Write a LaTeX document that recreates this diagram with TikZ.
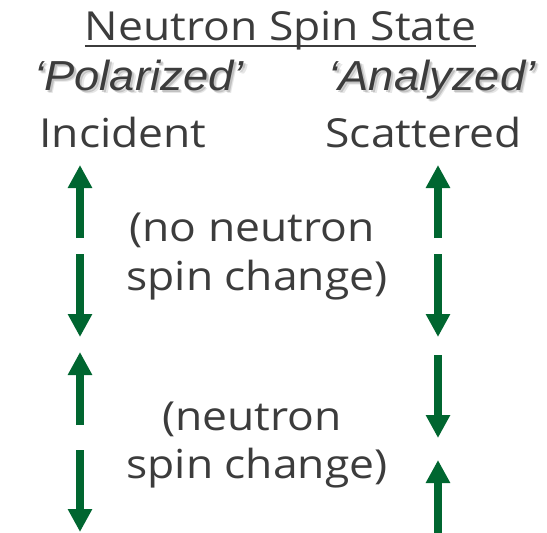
\documentclass[tikz,border=0pt]{standalone}
\usepackage{fontspec}
\setmainfont{Open Sans}[FakeStretch=1.11]
\newfontfamily\obliq{Liberation Sans}[FakeStretch=1.08]
\usetikzlibrary{arrows.meta}
\definecolor{spingreen}{RGB}{0,102,48}
\definecolor{textgray}{RGB}{60,60,60}
\newcommand{\bigtxt}{\fontsize{40}{48}\selectfont}
\newcommand{\obtxt}{\obliq\itshape\fontsize{42}{48}\selectfont}
\newcommand{\spin}[3]{\coordinate (#1a) at (#2);
 	\coordinate (#1b) at (#3);
 	\draw[spinarrow] (#1a) -- (#1b)}
\newcommand{\shadowtxt}[3]{\node[lbl, font=\obtxt, text=gray, opacity=0.35] (#1sh) at ([shift={(2,2)}]#2) {#3};
 	\node[lbl, font=\obtxt, text=gray, opacity=0.2] (#1sh2) at ([shift={(3.5,3.5)}]#2) {#3};
 	\node[lbl, font=\obtxt] (#1) at (#2) {#3}}
\tikzset{lbl/.style={inner sep=0pt, anchor=base, text=textgray, font=\bigtxt},
	spinarrow/.style={line width=8pt, spingreen, -{Triangle[width=23pt,length=23pt]}}}

\begin{document}
\begin{tikzpicture}[x=1pt, y=-1pt]
	\useasboundingbox (0,0) rectangle (547,533);
%Heading
	\node[lbl] (title) at (280.5,40) {Neutron Spin State};
	\draw[textgray, line width=1.6pt] (title.west |- 0,46) -- (title.east |- 0,46);
	\shadowtxt{pol}{139,90}{‘Polarized’};
	\shadowtxt{ana}{432,90}{‘Analyzed’};
	\node[lbl] (inc) at (123,147) {Incident};
	\node[lbl] (sca) at (423.5,147) {Scattered};
%Incident spins
	\spin{li1}{80,238}{80,165};
	\spin{li2}{80,254}{80,337};
	\spin{li3}{80,425}{80,352};
	\spin{li4}{80,450}{80,532};
%Scattered spins
	\spin{ri1}{438,238}{438,165};
	\spin{ri2}{438,254}{438,337};
	\spin{ri3}{438,355}{438,438};
	\spin{ri4}{438,533}{438,460};
%Labels
	\node[lbl] (nochange) at (252,241) {(no neutron};
	\node[lbl] (nochange2) at (257,290) {spin change)};
	\node[lbl] (change) at (252,430) {(neutron};
	\node[lbl] (change2) at (257,478) {spin change)};
\end{tikzpicture}
\end{document}
